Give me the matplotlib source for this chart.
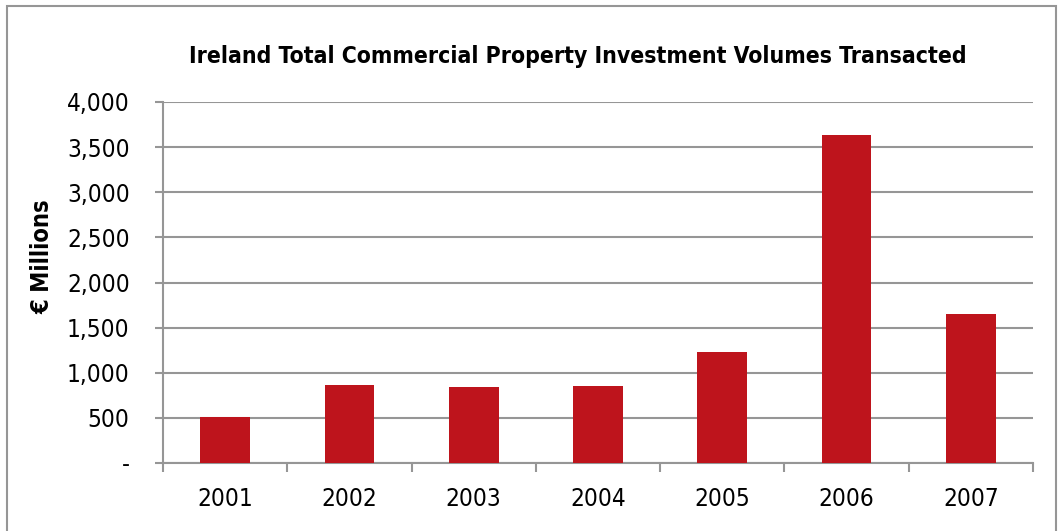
import numpy as np
import matplotlib.pyplot as plt
from matplotlib.patches import Rectangle
from matplotlib.ticker import FuncFormatter

plt.rcParams['font.family'] = ['DejaVu Sans']
plt.rcParams['font.stretch'] = 'condensed'

years = ['2001', '2002', '2003', '2004', '2005', '2006', '2007']
volumes = [510, 862, 842, 852, 1228, 3630, 1650]

bar_color = '#BE141C'
grid_color = '#969696'

fig = plt.figure(figsize=(10.59, 5.31), dpi=100)
ax = fig.add_axes([163 / 1059, 1 - 463 / 531, 870 / 1059, 361 / 531])

x = np.arange(len(years))
ax.bar(x, volumes, width=0.4, color=bar_color, zorder=3)

ax.set_xlim(-0.5, len(years) - 0.5)
ax.set_ylim(0, 4000)
ax.set_yticks(np.arange(0, 4001, 500))
ax.yaxis.set_major_formatter(FuncFormatter(lambda v, p: '-' if v == 0 else f'{int(v):,}'))
ax.set_xticks(x)
ax.set_xticklabels(years)
ax.set_xticks(np.arange(-0.5, len(years)), minor=True)
ax.tick_params(axis='x', which='major', length=0, labelsize=17.5, pad=17)
ax.tick_params(axis='x', which='minor', length=6.5, width=1.5, color=grid_color)
ax.tick_params(axis='y', length=6, width=1.5, color=grid_color, labelsize=17.5, pad=18)

ax.grid(axis='y', color=grid_color, linewidth=1.5, zorder=0)
for side in ['top', 'right']:
    ax.spines[side].set_visible(False)
for side in ['left', 'bottom']:
    ax.spines[side].set_color(grid_color)
    ax.spines[side].set_linewidth(1.5)

ax.set_ylabel('€ Millions', fontsize=17, fontweight='bold')
ax.yaxis.set_label_coords(-0.125, 0.571)
fig.text(578 / 1059, 1 - 56 / 531, 'Ireland Total Commercial Property Investment Volumes Transacted',
         ha='center', va='center', fontsize=16.5, fontweight='bold')

fig.patches.append(Rectangle((7 / 1059, -0.05), 1049 / 1059, 1 - 6 / 531 + 0.05,
                             transform=fig.transFigure, fill=False,
                             edgecolor=grid_color, linewidth=1.5))

fig.savefig('out.png', dpi=100)
